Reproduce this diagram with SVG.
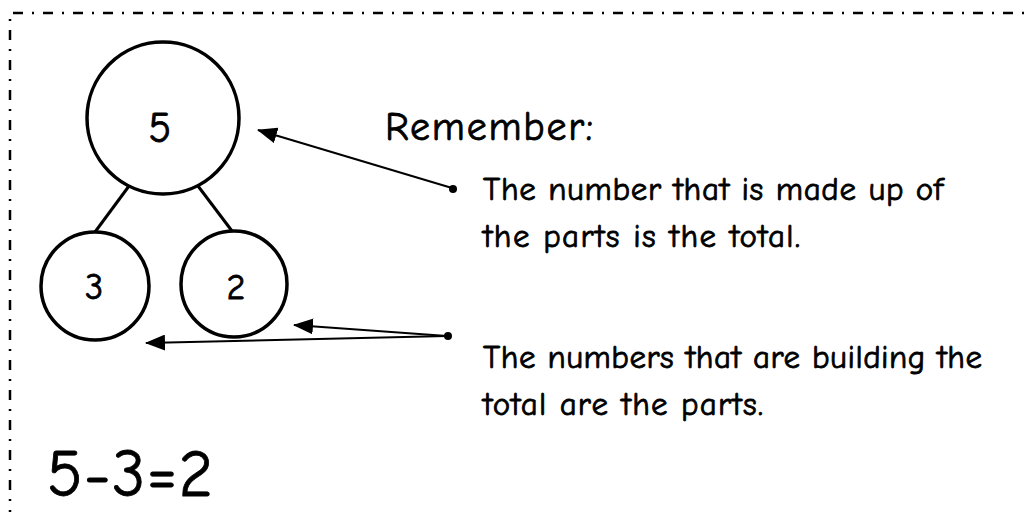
<svg xmlns="http://www.w3.org/2000/svg" width="1028" height="512" viewBox="0 0 1028 512">
<style>
.c{fill:none;stroke:#000;stroke-width:3.5}
.l{stroke:#000;stroke-width:3}
.a{stroke:#000;stroke-width:2;fill:none}
.b{fill:none;stroke:#000;stroke-width:2.5;stroke-dasharray:10 9 2 9}
.t{font-family:"Comic Neue","Liberation Sans",sans-serif;fill:#000;stroke:#000;stroke-width:0.8}
</style>
<defs>
<marker id="ah" markerWidth="20" markerHeight="16" refX="19" refY="8" orient="auto" markerUnits="userSpaceOnUse">
<path d="M0,0 L20,8 L0,16 Z" fill="#000"/>
</marker>
</defs>
<path class="b" d="M10,520 L10,13 L1028,13"/>
<g id="node-total">
<circle class="c" cx="163" cy="118" r="76"/>
<text class="t" x="160" y="142" font-size="42" text-anchor="middle">5</text>
</g>
<g id="node-part3">
<circle class="c" cx="95" cy="286" r="54"/>
<text class="t" x="94" y="299" font-size="36" text-anchor="middle">3</text>
</g>
<g id="node-part2">
<circle class="c" cx="234" cy="284" r="53"/>
<text class="t" x="236" y="299" font-size="36" text-anchor="middle">2</text>
</g>
<g id="connectors">
<line class="l" x1="129" y1="186" x2="95" y2="232"/>
<line class="l" x1="198" y1="186" x2="232" y2="231"/>
<line class="a" x1="452" y1="188" x2="258" y2="130" marker-end="url(#ah)"/>
<line class="a" x1="447" y1="336" x2="294" y2="325" marker-end="url(#ah)"/>
<line class="a" x1="447" y1="336" x2="146" y2="343" marker-end="url(#ah)"/>
<circle cx="453" cy="189" r="4" fill="#000"/>
<circle cx="448" cy="336" r="4" fill="#000"/>
</g>
<g id="notes">
<text class="t" x="385" y="140" font-size="40" textLength="208" lengthAdjust="spacing">Remember:</text>
<text class="t" x="483" y="200" font-size="33" textLength="460" lengthAdjust="spacing">The number that is made up of</text>
<text class="t" x="483" y="247" font-size="33" textLength="317" lengthAdjust="spacing">the parts is the total.</text>
<text class="t" x="483" y="368" font-size="33" textLength="499" lengthAdjust="spacing">The numbers that are building the</text>
<text class="t" x="483" y="415" font-size="33" textLength="280" lengthAdjust="spacing">total are the parts.</text>
</g>
<text class="t" x="47" y="496" font-size="66" textLength="166" lengthAdjust="spacing">5-3=2</text>
</svg>
